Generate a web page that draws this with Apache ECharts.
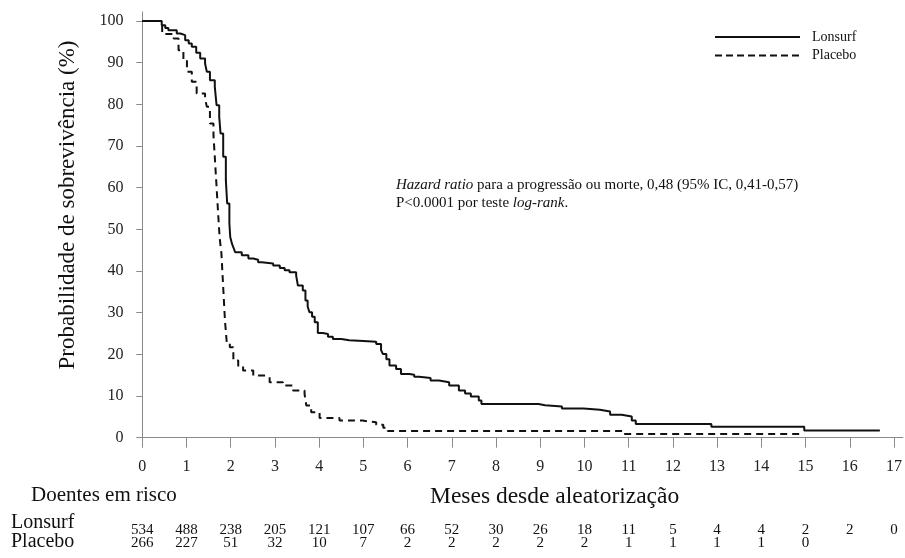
<!DOCTYPE html>
<html>
<head>
<meta charset="utf-8">
<script src="https://cdn.jsdelivr.net/npm/echarts@6/dist/echarts.min.js"></script>
<style>html,body{margin:0;padding:0;background:#fff;}#c{width:905px;height:558px;}</style>
</head>
<body>
<div id="c"></div>
<script>
// ---- Data ----
var lonsurfT = [0, 0.33, 0.44, 0.52, 0.59, 0.78, 0.86, 0.97, 1.05, 1.12, 1.22, 1.31, 1.42, 1.46, 1.53, 1.64, 1.68, 1.74, 1.77, 1.83, 1.89, 1.92, 1.97, 1.99, 2.03, 2.06, 2.10, 2.25, 2.40, 2.51, 2.62, 2.70, 2.96, 3.11, 3.22, 3.33, 3.48, 3.52, 3.63, 3.69, 3.74, 3.78, 3.84, 3.90, 3.97, 4.08, 4.20, 4.31, 4.50, 4.68, 5.00, 5.29, 5.40, 5.44, 5.52, 5.59, 5.74, 5.85, 6.04, 6.15, 6.26, 6.52, 6.71, 6.94, 7.16, 7.30, 7.43, 7.61, 7.67, 8.96, 9.11, 9.49, 9.98, 10.35, 10.58, 10.84, 11.07, 11.16, 12.87, 14.97, 16.68];
var lonsurfS = [100, 100, 99.0, 98.3, 97.8, 97.0, 96.6, 95.4, 94.6, 93.8, 92.4, 91.0, 89.8, 87.8, 85.8, 84.2, 79.8, 77.0, 73.0, 67.4, 61.8, 56.2, 51.4, 48.1, 46.5, 45.7, 44.5, 43.8, 43.0, 42.7, 42.1, 41.8, 41.3, 40.7, 40.2, 39.7, 38.9, 36.5, 35.3, 32.9, 31.5, 30.1, 29.0, 27.7, 25.1, 24.9, 24.2, 23.7, 23.4, 23.2, 23.0, 22.5, 21.0, 20.1, 18.8, 17.3, 16.5, 15.3, 15.1, 14.6, 14.3, 13.7, 13.3, 12.5, 11.3, 10.6, 9.9, 8.9, 8.1, 7.8, 7.5, 7.0, 6.7, 6.3, 5.5, 5.1, 4.1, 3.3, 2.6, 1.7, 1.7];
var placeboT = [0, 0.45, 0.71, 0.82, 0.93, 1.01, 1.12, 1.23, 1.42, 1.46, 1.53, 1.61, 1.64, 1.68, 1.72, 1.75, 1.79, 1.83, 1.87, 1.91, 1.98, 2.06, 2.17, 2.28, 2.51, 2.81, 2.88, 3.18, 3.41, 3.67, 3.71, 3.82, 4.01, 4.46, 4.98, 5.29, 5.45, 5.55, 10.86, 14.97];
var placeboS = [100, 96.9, 95.8, 93.0, 90.6, 87.8, 85.4, 82.6, 81.4, 79.4, 75.4, 72.6, 67.4, 60.2, 53.0, 48.0, 44.2, 36.1, 28.1, 22.9, 21.7, 18.5, 17.2, 16.1, 14.9, 14.5, 13.3, 12.5, 11.3, 10.5, 7.7, 6.1, 4.7, 4.1, 3.7, 3.1, 2.4, 1.6, 0.9, 0.9];
var xTicks = [0, 1, 2, 3, 4, 5, 6, 7, 8, 9, 10, 11, 12, 13, 14, 15, 16, 17];
var yTicks = [0, 10, 20, 30, 40, 50, 60, 70, 80, 90, 100];
var riskLonsurf = [534, 488, 238, 205, 121, 107, 66, 52, 30, 26, 18, 11, 5, 4, 4, 2, 2, 0];
var riskPlacebo = [266, 227, 51, 32, 10, 7, 2, 2, 2, 2, 2, 1, 1, 1, 1, 0];
var seriesNames = ['Lonsurf', 'Placebo'];

function pairs(t, s) { return t.map(function (v, i) { return [v, s[i]]; }); }

var FONT = 'Liberation Serif';
var INK = '#111';

var chart = echarts.init(document.getElementById('c'), null, { renderer: 'canvas' });
var option = {
  animation: false,
  backgroundColor: '#fff',
  grid: { left: 137.5, right: 0, top: 12, bottom: 111.3, containLabel: false },
  xAxis: {
    type: 'value', min: -0.108, max: 17.2,
    axisLine: { show: true, lineStyle: { color: '#8a8a8a', width: 1 } },
    axisTick: { show: true, length: 10, lineStyle: { color: '#8a8a8a' }, customValues: xTicks },
    axisLabel: { customValues: xTicks, margin: 12, fontFamily: FONT, fontSize: 16, color: '#222' },
    splitLine: { show: false }
  },
  yAxis: {
    type: 'value', min: -2.16, max: 102.16,
    axisLine: { show: true, lineStyle: { color: '#8a8a8a', width: 1 } },
    axisTick: { show: true, length: 6, lineStyle: { color: '#8a8a8a' }, customValues: yTicks },
    axisLabel: { customValues: yTicks, margin: 14, fontFamily: FONT, fontSize: 16, color: '#222' },
    splitLine: { show: false }
  },
  series: [
    { name: seriesNames[0], type: 'line', step: 'end', symbol: 'none', data: pairs(lonsurfT, lonsurfS),
      lineStyle: { color: INK, width: 2, type: 'solid' }, itemStyle: { color: INK } },
    { name: seriesNames[1], type: 'line', step: 'end', symbol: 'none', data: pairs(placeboT, placeboS),
      lineStyle: { color: INK, width: 2, type: [7, 5] }, itemStyle: { color: INK } }
  ]
};
chart.setOption(option);

// ---- Texts, legend and risk table ----
var graphics = [];
function txt(x, y, s, size, align) {
  graphics.push({ type: 'text', x: x, y: y,
    style: { text: s, font: size + 'px "' + FONT + '"', fill: INK, align: align || 'left', verticalAlign: 'middle', textAlign: align || 'left', textVerticalAlign: 'middle' } });
}
graphics.push({ type: 'text', x: 68, y: 205, rotation: Math.PI / 2,
  style: { text: 'Probabilidade de sobrevivência (%)', font: '23px "' + FONT + '"', fill: INK, align: 'center', verticalAlign: 'middle', textAlign: 'center', textVerticalAlign: 'middle' } });
graphics.push({ type: 'text', x: 396, y: 176,
  style: { text: '{i|Hazard ratio} para a progressão ou morte, 0,48 (95% IC, 0,41-0,57)\nP<0.0001 por teste {i|log-rank}.',
    fontFamily: FONT, fontSize: 15, lineHeight: 18, fill: INK,
    rich: { i: { fontFamily: FONT, fontStyle: 'italic', fontSize: 15, lineHeight: 18, color: INK } } } });
// legend
graphics.push({ type: 'line', shape: { x1: 715, y1: 37, x2: 800, y2: 37 }, style: { stroke: INK, lineWidth: 2 } });
graphics.push({ type: 'line', shape: { x1: 715, y1: 55.5, x2: 800, y2: 55.5 }, style: { stroke: INK, lineWidth: 2, lineDash: [7, 4] } });
txt(812, 37, seriesNames[0], 14);
txt(812, 55.5, seriesNames[1], 14);
// risk table
txt(31, 495, 'Doentes em risco', 21);
txt(430, 497, 'Meses desde aleatorização', 23.5);
txt(11, 523, seriesNames[0], 20);
txt(11, 542, seriesNames[1], 20);
function riskRow(arr, yc) {
  arr.forEach(function (v, i) {
    var px = chart.convertToPixel({ xAxisIndex: 0 }, xTicks[i]);
    txt(px, yc, String(v), 15, 'center');
  });
}
riskRow(riskLonsurf, 530.5);
riskRow(riskPlacebo, 542.7);
chart.setOption({ graphic: graphics });
</script>
</body>
</html>
